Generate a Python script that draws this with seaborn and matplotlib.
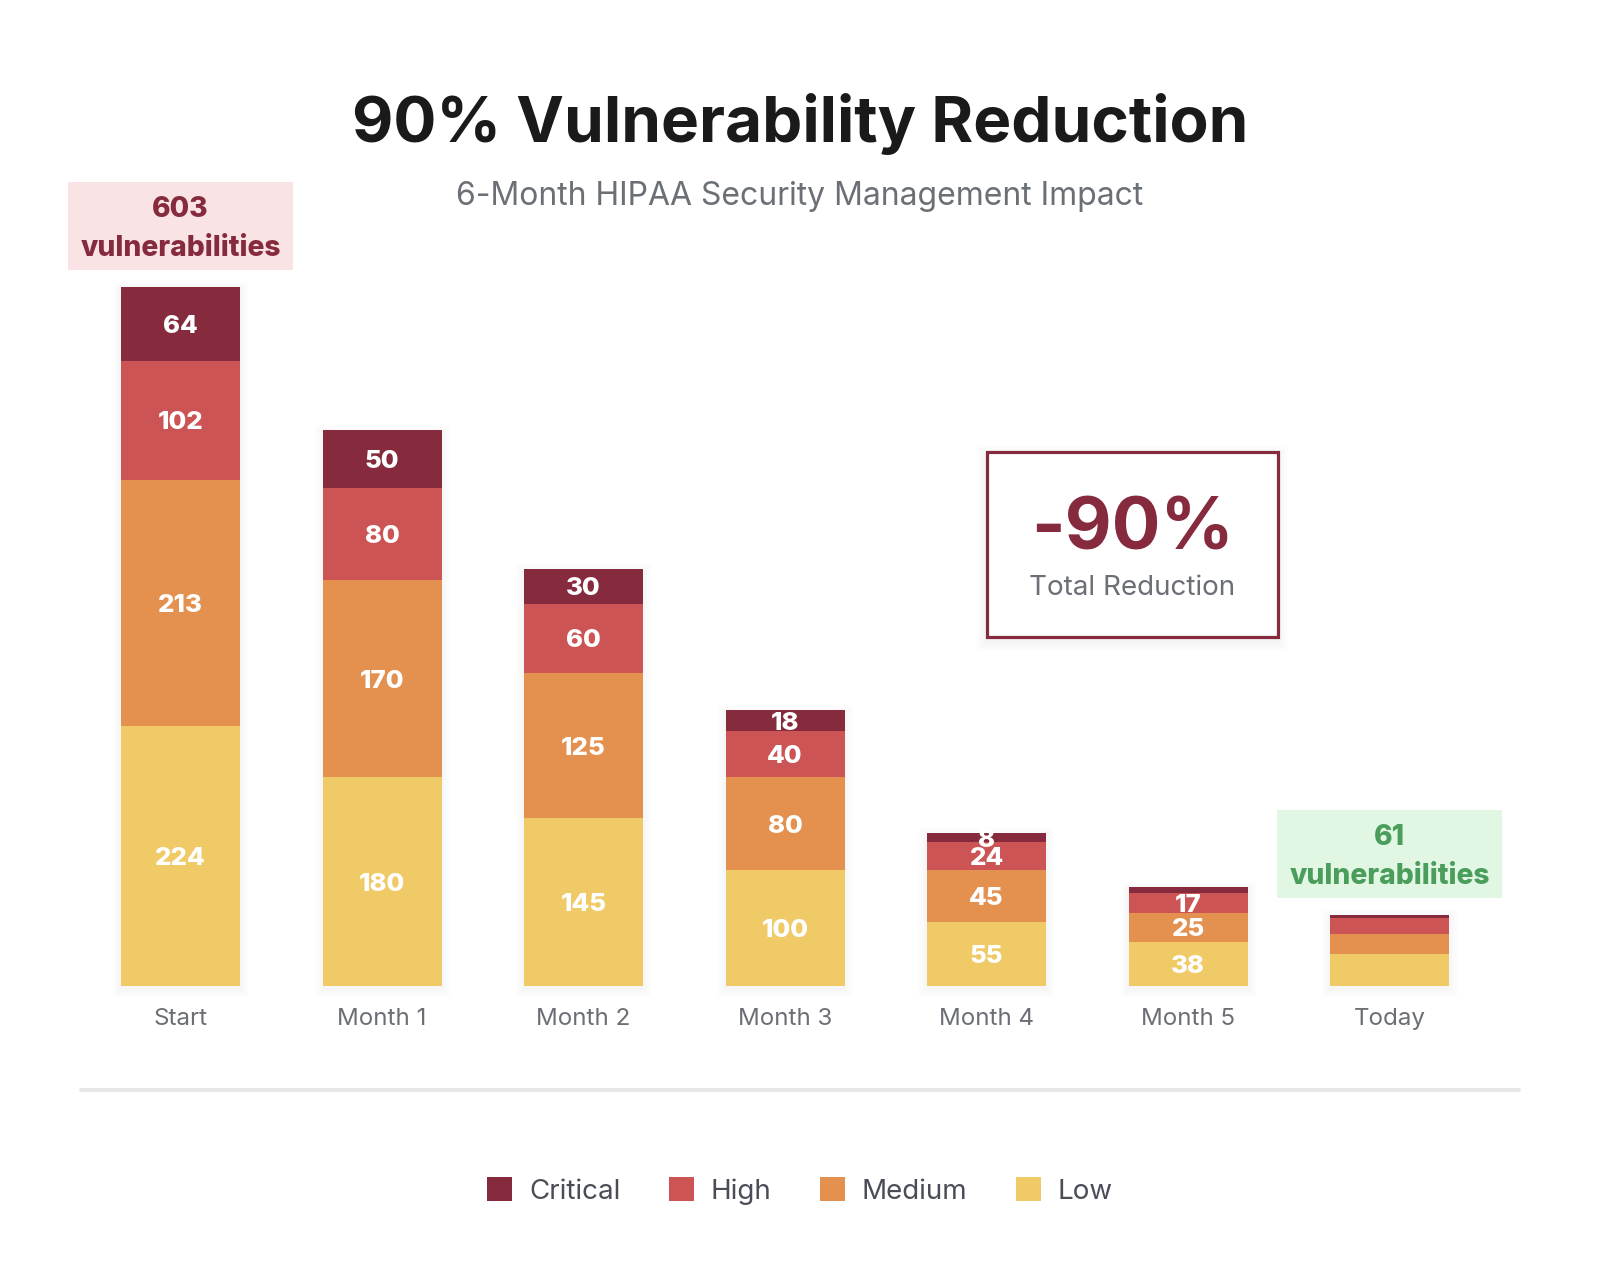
import matplotlib
matplotlib.use("Agg")
import matplotlib.pyplot as plt
import seaborn as sns
import pandas as pd
from matplotlib.patches import Rectangle, Patch
from matplotlib.lines import Line2D

# ---------------- data ----------------
periods = ["Start", "Month 1", "Month 2", "Month 3", "Month 4", "Month 5", "Today"]
critical = [64, 50, 30, 18, 8, 5, 2]
high = [102, 80, 60, 40, 24, 17, 14]
medium = [213, 170, 125, 80, 45, 25, 17]
low = [224, 180, 145, 100, 55, 38, 28]
severities = ["Critical", "High", "Medium", "Low"]
title = "90% Vulnerability Reduction"
subtitle = "6-Month HIPAA Security Management Impact"
reduction_text = "-90%"
reduction_label = "Total Reduction"
unlabeled_periods = ["Today"]
unlabeled_segments = [("Month 5", "Critical")]

# ---------------- style ----------------
sev_colors = {"Critical": "#862a3e", "High": "#cd5454", "Medium": "#e49150", "Low": "#f0ca67"}
W, H = 1600, 1284
DPI = 100

sns.set_theme(style="white")
plt.rcParams["font.family"] = ["Inter", "DejaVu Sans"]

fig = plt.figure(figsize=(W / DPI, H / DPI), dpi=DPI, facecolor="white")

def fx(px):
    return px / W

def fy(py):
    return 1 - py / H

# axes placement (pixels)
ax_left, ax_right, ax_bottom_px = 80.6, 1519.0, 986.0
px_per_unit = 1.159
px_per_cat = 201.5
ymax = 700
ax_h_px = ymax * px_per_unit
ax = fig.add_axes([fx(ax_left), fy(ax_bottom_px), (ax_right - ax_left) / W, ax_h_px / H])

df = pd.DataFrame({"period": periods, "Critical": critical, "High": high,
                   "Medium": medium, "Low": low})
df["c_low"] = df["Low"]
df["c_med"] = df["c_low"] + df["Medium"]
df["c_high"] = df["c_med"] + df["High"]
df["c_crit"] = df["c_high"] + df["Critical"]

bar_w = 0.59

# soft shadow behind bars
for i in range(len(periods)):
    tot = df.loc[i, "c_crit"]
    for k in range(1, 10):
        dx = k / px_per_cat
        dy = k / px_per_unit
        ax.add_patch(Rectangle((i - bar_w / 2 - dx, -dy - 3 / px_per_unit), bar_w + 2 * dx,
                               tot + 2 * dy, facecolor="black", alpha=0.004,
                               edgecolor="none", clip_on=False, zorder=0))

for col, sev in [("c_crit", "Critical"), ("c_high", "High"), ("c_med", "Medium"), ("c_low", "Low")]:
    sns.barplot(data=df, x="period", y=col, order=periods, color=sev_colors[sev],
                saturation=1, width=bar_w, linewidth=0, edgecolor="none", ax=ax, zorder=2)

ax.set_xlim(-0.496, 6.642)
ax.set_ylim(0, ymax)
for s in ax.spines.values():
    s.set_visible(False)
ax.set_yticks([])
ax.set_xlabel("")
ax.set_ylabel("")
ax.set_xticks(range(len(periods)))
ax.set_xticklabels(periods, fontsize=17.4, color="#6b6f75")
ax.tick_params(axis="x", length=0, pad=16)
ax.set_facecolor("none")

# segment labels
lbl_shift = 2.5 / px_per_unit
for i, p in enumerate(periods):
    bottom = 0
    for sev in ["Low", "Medium", "High", "Critical"]:
        v = df.loc[i, sev]
        if p not in unlabeled_periods and (p, sev) not in unlabeled_segments:
            clip = Rectangle((i - bar_w / 2, bottom), bar_w, v, transform=ax.transData)
            t = ax.text(i, bottom + v / 2 - lbl_shift, f"{v}", ha="center", va="center",
                        fontsize=18.6, fontweight="heavy", color="white", zorder=5)
            t.set_clip_path(clip)
        bottom += v

# total annotation boxes
gap = 17 / px_per_unit
box_h = 88 / px_per_unit
box_w = 1.12
for i, fc, tc in [(0, "#fae3e4", "#862a3e"), (len(periods) - 1, "#e1f7e4", "#4a9d5b")]:
    tot = df.loc[i, "c_crit"]
    ax.add_patch(Rectangle((i - box_w / 2, tot + gap), box_w, box_h, facecolor=fc,
                           edgecolor="none", clip_on=False, zorder=3))
    ax.text(i, tot + gap + box_h / 2 - lbl_shift, f"{tot}\nvulnerabilities", ha="center",
            va="center", fontsize=20.3, fontweight="heavy", color=tc, linespacing=1.58,
            zorder=4, clip_on=False)

# title/subtitle
fig.text(0.5, fy(124), title, ha="center", va="center", fontsize=46,
         fontweight="bold", color="#1a1a1a")
fig.text(0.5, fy(196), subtitle, ha="center", va="center", fontsize=23, color="#6b7077")

# reduction box with soft shadow
bx0, by0, bx1, by1 = 987, 452, 1278, 637
for k in range(1, 12):
    fig.add_artist(Rectangle((fx(bx0 - k), fy(by1 + k + 4)), (bx1 - bx0 + 2 * k) / W,
                             (by1 - by0 + 2 * k) / H, facecolor="black", alpha=0.005,
                             edgecolor="none", transform=fig.transFigure, zorder=5))
fig.add_artist(Rectangle((fx(bx0), fy(by1)), (bx1 - bx0) / W, (by1 - by0) / H,
                         facecolor="white", edgecolor="#862a3e", linewidth=2.3,
                         transform=fig.transFigure, zorder=6))
fig.text(fx((bx0 + bx1) / 2), fy(531), reduction_text, ha="center", va="center",
         fontsize=52, fontweight="bold", color="#862a3e", zorder=7)
fig.text(fx((bx0 + bx1) / 2), fy(588), reduction_label, ha="center", va="center",
         fontsize=20, color="#6b6f76", zorder=7)

# separator
fig.add_artist(Line2D([fx(80.6), fx(1519)], [fy(1090), fy(1090)], color="#e6e6e6",
                      linewidth=2.9, transform=fig.transFigure))

# legend
handles = [Patch(facecolor=sev_colors[s], edgecolor="none", label=s) for s in severities]
leg = fig.legend(handles=handles, loc="center", bbox_to_anchor=(0.5, fy(1191)), ncol=4,
                 frameon=False, fontsize=20, handlelength=0.9, handleheight=0.9,
                 handletextpad=0.6, columnspacing=1.75)
for t in leg.get_texts():
    t.set_color("#4a4d57")

fig.savefig("out.png", dpi=DPI, facecolor="white")
